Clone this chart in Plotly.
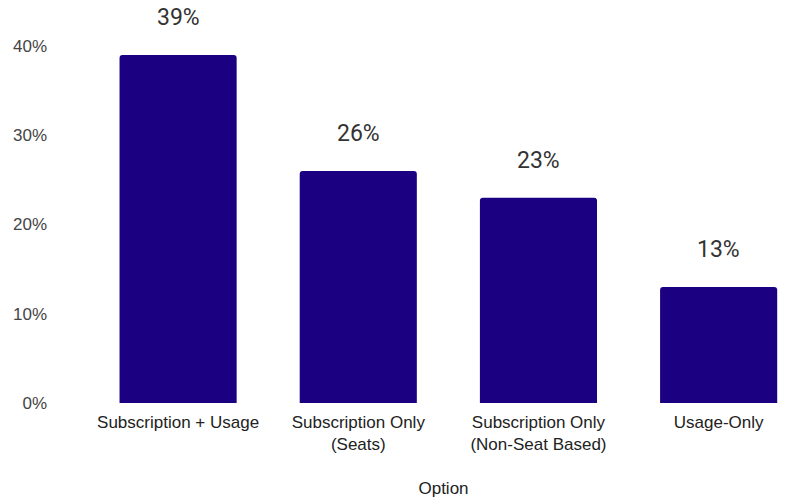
import plotly.graph_objects as go

# Share of respondents by pricing option
options = ["Subscription + Usage", "Subscription Only<br>(Seats)",
           "Subscription Only<br>(Non-Seat Based)", "Usage-Only"]
shares = [39, 26, 23, 13]
y_ticks = [0, 10, 20, 30, 40]
y_tick_labels = ["0%", "10%", "20%", "30%", "40%"]

BAR_COLOR = "#1c0082"
AXIS_FONT = "Liberation Sans, Arial, sans-serif"

fig = go.Figure(
    go.Bar(
        x=options,
        y=shares,
        marker=dict(color=BAR_COLOR, cornerradius=3, line=dict(width=0)),
        hoverinfo="skip",
    )
)

# value labels floating above each bar
for opt, val in zip(options, shares):
    fig.add_annotation(
        x=opt, y=val, text=f"{val}%", showarrow=False,
        yanchor="middle", yshift=37,
        font=dict(family="Roboto, sans-serif", size=23, color="#333333"),
    )

fig.update_layout(
    width=799, height=498,
    margin=dict(l=88, r=0, t=46, b=95),
    paper_bgcolor="white", plot_bgcolor="white",
    bargap=0.35,
    showlegend=False,
    xaxis=dict(
        range=[-0.5, 3.446],
        showgrid=False, showline=False, zeroline=False,
        ticklabelstandoff=7,
        tickfont=dict(family=AXIS_FONT, size=17, color="#222222"),
        title=dict(text="Option", standoff=29,
                   font=dict(family=AXIS_FONT, size=17, color="#222222")),
    ),
    yaxis=dict(
        range=[0, 40],
        tickvals=y_ticks, ticktext=y_tick_labels,
        showgrid=False, showline=False, zeroline=False,
        ticklabelstandoff=40,
        tickfont=dict(family=AXIS_FONT, size=17, color="#444444"),
    ),
)

fig.write_html("out.html")
